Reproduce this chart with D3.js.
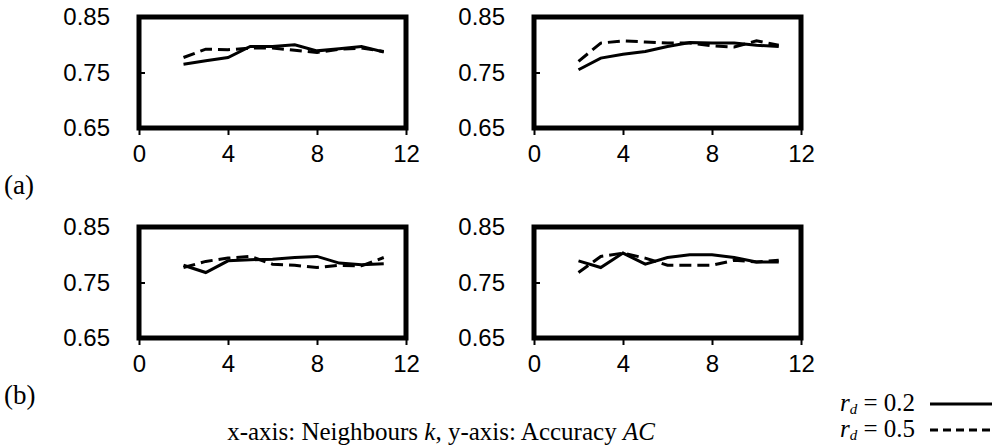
<!doctype html>
<html>
<head>
<meta charset="utf-8">
<style>
    body { margin: 0; background: #fff; }
    .tick text { font-family: "Liberation Sans", Arial, sans-serif; font-size: 24px; fill: #000; }
    .serif { font-family: "Liberation Serif", "Times New Roman", serif; fill: #000; }
</style>
<script src="https://d3js.org/d3.v7.min.js"></script>
</head>
<body>
<svg width="1002" height="445"></svg>
<script>

    // neighbours k on the x-axis
    var kValues = [2, 3, 4, 5, 6, 7, 8, 9, 10, 11];
    var xTicks = [0, 4, 8, 12];
    var yTicks = [0.65, 0.75, 0.85];

    // accuracy AC, r_d = 0.2 (solid) and r_d = 0.5 (dashed)
    var aLeft02  = [0.765, 0.771, 0.777, 0.797, 0.797, 0.800, 0.789, 0.793, 0.797, 0.787];
    var aLeft05  = [0.777, 0.792, 0.791, 0.794, 0.794, 0.790, 0.786, 0.792, 0.794, 0.788];
    var aRight02 = [0.755, 0.776, 0.783, 0.788, 0.797, 0.804, 0.803, 0.803, 0.799, 0.797];
    var aRight05 = [0.770, 0.803, 0.807, 0.805, 0.803, 0.803, 0.798, 0.796, 0.807, 0.799];
    var bLeft02  = [0.781, 0.768, 0.789, 0.791, 0.792, 0.795, 0.797, 0.785, 0.782, 0.784];
    var bLeft05  = [0.777, 0.788, 0.794, 0.797, 0.783, 0.781, 0.777, 0.781, 0.780, 0.795];
    var bRight02 = [0.789, 0.777, 0.803, 0.783, 0.795, 0.800, 0.800, 0.795, 0.787, 0.787];
    var bRight05 = [0.768, 0.797, 0.803, 0.794, 0.781, 0.781, 0.781, 0.790, 0.787, 0.790];

    var svg = d3.select("svg");

    var panels = [
        { left: 139, top: 17,  solid: aLeft02,  dashed: aLeft05 },
        { left: 534, top: 17,  solid: aRight02, dashed: aRight05 },
        { left: 139, top: 227, solid: bLeft02,  dashed: bLeft05 },
        { left: 534, top: 227, solid: bRight02, dashed: bRight05 }
    ];
    var pw = 267, ph = 111;

    panels.forEach(function(p) {
        var g = svg.append("g").attr("transform", "translate(" + p.left + "," + p.top + ")");
        var x = d3.scaleLinear().domain([0, 12]).range([0, pw]);
        var y = d3.scaleLinear().domain([0.65, 0.85]).range([ph, 0]);

        // x axis, ticks pointing down
        var xa = g.append("g")
            .attr("transform", "translate(0," + ph + ")")
            .call(d3.axisBottom(x).tickValues(xTicks).tickSize(7).tickPadding(10).tickFormat(d3.format("d")));
        xa.select(".domain").remove();
        xa.selectAll("line").attr("stroke", "#000").attr("stroke-width", 2);

        // y axis, small inward ticks
        var ya = g.append("g")
            .call(d3.axisLeft(y).tickValues(yTicks).tickSize(-6).tickPadding(29).tickFormat(d3.format(".2f")));
        ya.select(".domain").remove();
        ya.selectAll("line").attr("stroke", "#000").attr("stroke-width", 2);

        var line = d3.line()
            .x(function(d, i) { return x(kValues[i]); })
            .y(function(d) { return y(d); });

        g.append("path")
            .datum(p.dashed)
            .attr("d", line)
            .attr("fill", "none")
            .attr("stroke", "#000")
            .attr("stroke-width", 3)
            .attr("stroke-dasharray", "12,6");

        g.append("path")
            .datum(p.solid)
            .attr("d", line)
            .attr("fill", "none")
            .attr("stroke", "#000")
            .attr("stroke-width", 3);

        // heavy plot frame
        g.append("rect")
            .attr("width", pw)
            .attr("height", ph)
            .attr("fill", "none")
            .attr("stroke", "#000")
            .attr("stroke-width", 5);
    });

    svg.append("text").attr("class", "serif").attr("x", 4).attr("y", 194)
        .attr("font-size", 27).text("(a)");
    svg.append("text").attr("class", "serif").attr("x", 4).attr("y", 404)
        .attr("font-size", 27).text("(b)");

    var cap = svg.append("text").attr("class", "serif").attr("x", 441).attr("y", 440)
        .attr("text-anchor", "middle").attr("font-size", 25);
    cap.append("tspan").text("x-axis: Neighbours ");
    cap.append("tspan").attr("font-style", "italic").text("k");
    cap.append("tspan").text(", y-axis: Accuracy ");
    cap.append("tspan").attr("font-style", "italic").text("AC");

    // legend
    var legend = [
        { label: "0.2", dash: null, y: 404 },
        { label: "0.5", dash: "8,5", y: 430 }
    ];
    legend.forEach(function(l) {
        var t = svg.append("text").attr("class", "serif").attr("x", 840).attr("y", l.y + 7)
            .attr("font-size", 25);
        t.append("tspan").attr("font-style", "italic").text("r");
        t.append("tspan").attr("font-style", "italic").attr("font-size", 15).attr("dy", 3).text("d");
        t.append("tspan").attr("dy", -3).text(" = " + l.label);
        svg.append("line")
            .attr("x1", 930).attr("x2", 992)
            .attr("y1", l.y).attr("y2", l.y)
            .attr("stroke", "#000")
            .attr("stroke-width", 3)
            .attr("stroke-dasharray", l.dash);
    });

</script>
</body>
</html>
